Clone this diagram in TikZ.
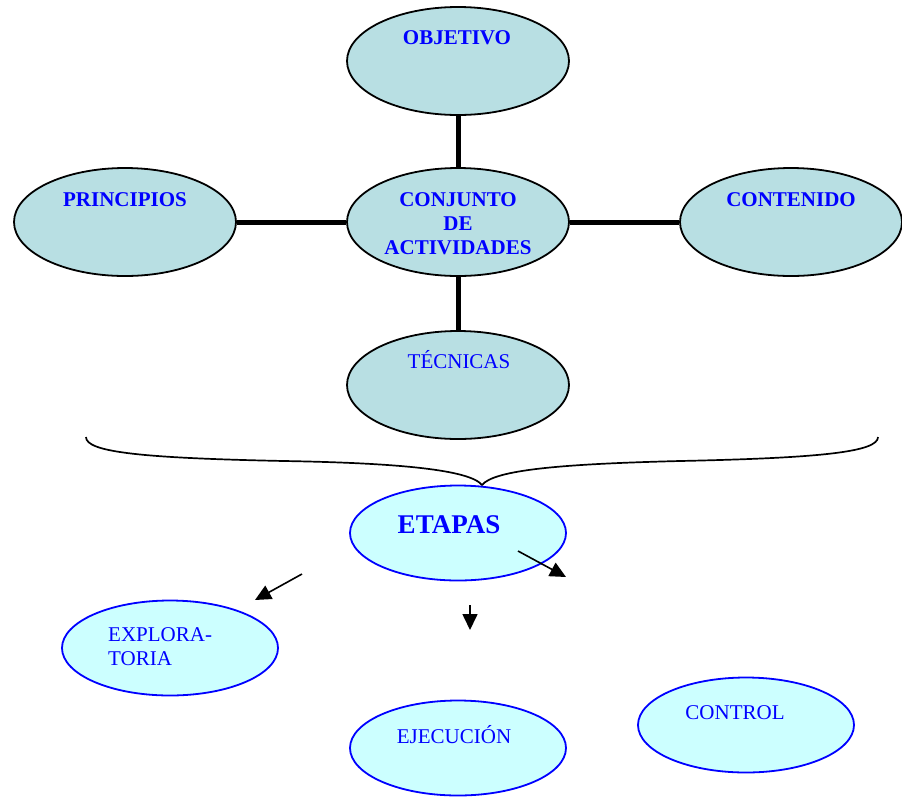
\documentclass[tikz,border=0pt]{standalone}
\usepackage{fontspec}
\setmainfont{Liberation Serif}
\usetikzlibrary{shapes.geometric,arrows.meta}
\definecolor{topfill}{HTML}{B8DFE3}
\definecolor{botfill}{HTML}{CCFFFF}
\definecolor{txtblue}{HTML}{0000FF}
\tikzset{
  topell/.style={ellipse,draw=black,line width=1.8pt,fill=topfill,minimum width=222pt,minimum height=108pt,inner sep=0pt},
  botell/.style={ellipse,draw=txtblue,line width=1.8pt,fill=botfill,minimum width=216pt,minimum height=95pt,inner sep=0pt},
  lbl/.style={text=txtblue,font=\fontsize{21}{24}\selectfont,inner sep=0pt},
  blbl/.style={lbl,font=\fontsize{21}{24}\selectfont\bfseries},
  thickcon/.style={line width=5pt,black},
  arr/.style={line width=1.6pt,-{Triangle[length=16pt,width=15pt]}},
  bracestyle/.style={line width=1.7pt,black}
}
\begin{document}
\begin{tikzpicture}[x=1pt,y=-1pt]
\useasboundingbox (0,0) rectangle (902,796);
% top ellipses
\node[topell] (obj) at (458,61) {};
\node[topell] (prin) at (125,222) {};
\node[topell] (conj) at (458,222) {};
\node[topell] (cont) at (791,222) {};
\node[topell] (tec) at (458,385) {};
% connectors
\draw[thickcon] (obj.south) -- (conj.north);
\draw[thickcon] (prin.east) -- (conj.west);
\draw[thickcon] (conj.east) -- (cont.west);
\draw[thickcon] (conj.south) -- (tec.north);
% labels top
\node[blbl,anchor=base] (tobj) at (457,44) {OBJETIVO};
\node[blbl,anchor=base] (tprin) at (125,206) {PRINCIPIOS};
\node[blbl,align=center] (tconj) at (458,224) {CONJUNTO\\DE\\ACTIVIDADES};
\node[blbl,anchor=base] (tcont) at (791,206) {CONTENIDO};
\node[lbl,anchor=base] (ttec) at (459,368) {TÉCNICAS};
% brace
\coordinate (bl) at (86,437);
\coordinate (br) at (878,437);
\coordinate (btip) at (482,485);
\draw[bracestyle] (bl) .. controls (86,452) and (140,458) .. (284,461)
  .. controls (400,463) and (470,470) .. (btip)
  .. controls (494,470) and (560,464) .. (680,461)
  .. controls (820,458) and (878,452) .. (br);
% bottom ellipses
\node[botell] (etap) at (458,533) {};
\node[botell] (expl) at (170,648) {};
\node[botell] (ejec) at (458,748) {};
\node[botell] (ctrl) at (746,725) {};
\node[lbl,anchor=base,font=\fontsize{27}{30}\selectfont\bfseries] (tetap) at (449,533) {ETAPAS};
\node[lbl,align=left,anchor=west] (texpl) at (108,647) {EXPLORA-\\TORIA};
\node[lbl,anchor=base] (tejec) at (454,743) {EJECUCIÓN};
\node[lbl,anchor=base] (tctrl) at (735,719) {CONTROL};
% arrows
\coordinate (a1s) at (302,574); \coordinate (a1e) at (255,600);
\coordinate (a2s) at (518,551); \coordinate (a2e) at (566,577);
\coordinate (a3s) at (470,605); \coordinate (a3e) at (470,630);
\draw[arr] (a1s) -- (a1e);
\draw[arr] (a2s) -- (a2e);
\draw[arr] (a3s) -- (a3e);
\end{tikzpicture}
\end{document}
